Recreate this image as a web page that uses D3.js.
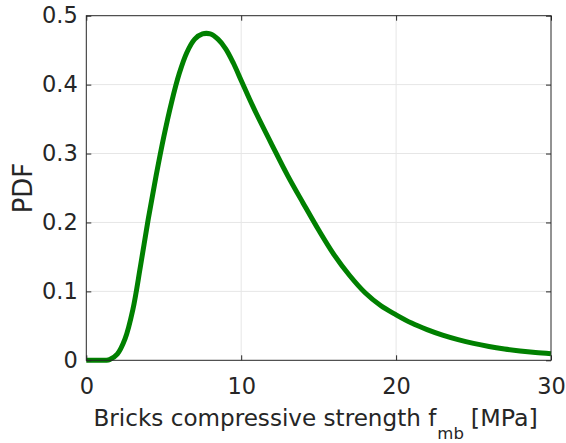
<!DOCTYPE html>
<html>
<head>
<meta charset="utf-8">
<script src="https://cdn.jsdelivr.net/npm/d3@7"></script>
<style>
  html, body { margin: 0; padding: 0; background: #fff; }
  svg { display: block; }
  text { font-family: "DejaVu Sans", "Liberation Sans", Arial, sans-serif; fill: #262626; }
</style>
</head>
<body>
<svg id="chart" width="566" height="443"></svg>
<script>
// ---- data ----
const fmb = [0, 1, 1.25, 1.5, 2, 2.5, 3, 3.5, 4, 4.5, 5, 5.5, 6, 6.5, 7, 7.5, 8, 8.5, 9, 9.5, 10, 10.5, 11, 12, 13, 14, 15, 16, 17, 18, 19, 20, 21, 22, 23, 24, 25, 26, 27, 28, 29, 30];
const pdf = [0, 0, 0.0001, 0.001, 0.009, 0.031, 0.073, 0.137, 0.205, 0.267, 0.324, 0.374, 0.416, 0.447, 0.466, 0.4735, 0.4735, 0.466, 0.452, 0.431, 0.406, 0.381, 0.357, 0.312, 0.268, 0.228, 0.189, 0.153, 0.123, 0.098, 0.0795, 0.066, 0.054, 0.0445, 0.0365, 0.030, 0.0245, 0.020, 0.0164, 0.0135, 0.0112, 0.0095];
const xTicks = [0, 10, 20, 30];
const yTicks = [0, 0.1, 0.2, 0.3, 0.4, 0.5];
const xLabelMain = "Bricks compressive strength f";
const xLabelSub = "mb";
const xLabelTail = "[MPa]";
const yLabel = "PDF";

// ---- layout ----
const svg = d3.select("#chart");
const m = { left: 86.3, top: 15.7, right: 551, bottom: 360.3 };
const x = d3.scaleLinear().domain([0, 30]).range([m.left, m.right]);
const y = d3.scaleLinear().domain([0, 0.5]).range([m.bottom, m.top]);
const axisColor = "#262626";

// grid
const grid = svg.append("g");
grid.selectAll("line.gx").data(xTicks.slice(1, -1)).enter().append("line")
  .attr("x1", d => x(d)).attr("x2", d => x(d))
  .attr("y1", m.top).attr("y2", m.bottom)
  .attr("stroke", "#e6e6e6").attr("stroke-width", 1);
grid.selectAll("line.gy").data(yTicks.slice(1, -1)).enter().append("line")
  .attr("x1", m.left).attr("x2", m.right)
  .attr("y1", d => y(d)).attr("y2", d => y(d))
  .attr("stroke", "#e6e6e6").attr("stroke-width", 1);

// curve
const pts = fmb.map((v, i) => [v, pdf[i]]);
const line = d3.line().x(d => x(d[0])).y(d => y(d[1])).curve(d3.curveCatmullRom.alpha(0.5));
svg.append("path").datum(pts)
  .attr("d", line)
  .attr("fill", "none")
  .attr("stroke", "#008000")
  .attr("stroke-width", 5)
  .attr("stroke-linejoin", "round")
  .attr("stroke-linecap", "butt");

// axes (MATLAB style, inward ticks, box on)
const fs = 22.5;
const gx = svg.append("g").attr("transform", `translate(0,${m.bottom})`)
  .call(d3.axisBottom(x).tickValues(xTicks).tickFormat(d3.format("d"))
        .tickSizeInner(-5).tickSizeOuter(0).tickPadding(18));
const gy = svg.append("g").attr("transform", `translate(${m.left},0)`)
  .call(d3.axisLeft(y).tickValues(yTicks).tickFormat(d => d === 0 ? "0" : d3.format(".1f")(d))
        .tickSizeInner(-5).tickSizeOuter(0).tickPadding(8.5));
const gxt = svg.append("g").attr("transform", `translate(0,${m.top})`)
  .call(d3.axisTop(x).tickValues(xTicks).tickFormat("").tickSizeInner(-5).tickSizeOuter(0));
const gyr = svg.append("g").attr("transform", `translate(${m.right},0)`)
  .call(d3.axisRight(y).tickValues(yTicks).tickFormat("").tickSizeInner(-5).tickSizeOuter(0));

[gx, gy, gxt, gyr].forEach(g => {
  g.select(".domain").remove();
  g.selectAll(".tick line").attr("stroke", axisColor).attr("stroke-width", 1);
  g.selectAll("text").attr("font-size", fs).attr("fill", axisColor)
    .style("font-family", '"DejaVu Sans", "Liberation Sans", Arial, sans-serif');
});

svg.append("rect")
  .attr("x", m.left).attr("y", m.top)
  .attr("width", m.right - m.left).attr("height", m.bottom - m.top)
  .attr("fill", "none").attr("stroke", axisColor).attr("stroke-width", 1);

// x label with subscript: three pieces laid out one after another
const labelBase = 425.7;
const startX = 93.5;
const mainT = svg.append("text").attr("x", startX).attr("y", labelBase)
  .attr("font-size", 24).text(xLabelMain);
// fit the main part to the width seen in the reference (~343 px)
let len = mainT.node().getComputedTextLength();
const mainSize = Math.max(20, Math.min(27, 24 * 343 / len));
mainT.attr("font-size", mainSize);
len = mainT.node().getComputedTextLength();
const subT = svg.append("text").attr("x", startX + len + 1).attr("y", labelBase + 13)
  .attr("font-size", 16.5).text(xLabelSub);
const subLen = subT.node().getComputedTextLength();
const tailX = startX + len + 1 + subLen + 7;
const tailT = svg.append("text").attr("x", tailX).attr("y", labelBase)
  .attr("font-size", mainSize).text(xLabelTail);
// stretch the tail to the reference width (~67 px)
const tailLen = tailT.node().getComputedTextLength();
tailT.attr("font-size", Math.max(20, Math.min(27, mainSize * 67 / tailLen)));

// y label
svg.append("text")
  .attr("transform", `translate(31.5,${(m.top + m.bottom) / 2}) rotate(-90)`)
  .attr("text-anchor", "middle")
  .attr("font-size", 26)
  .text(yLabel);
</script>
</body>
</html>
